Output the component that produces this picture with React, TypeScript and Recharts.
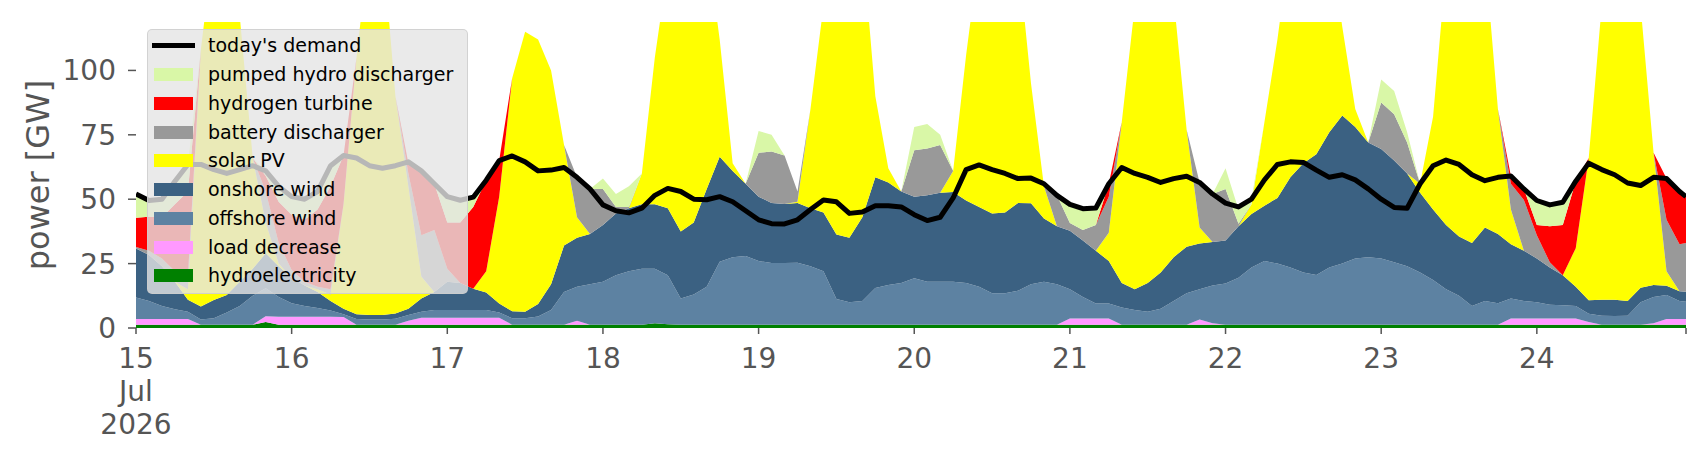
import React from 'react';
import { ComposedChart, Area, Line, XAxis, YAxis, Legend } from 'recharts';

// hours since 15 Jul 2026 00:00 (2-hourly, last point at 239 h)
const hours: number[] = Array.from({ length: 120 }, (_, i) => i * 2).concat([239]);

const hydro = [
  1.3,1.3,1.3,1.3,1.3,1.3,1.3,1.3,1.3,1.3,
  2.3,1.3,1.3,1.3,1.3,1.3,1.3,1.3,1.3,1.3,
  1.3,1.3,1.3,1.3,1.3,1.3,1.3,1.3,1.3,1.3,
  1.3,1.3,1.3,1.3,1.3,1.3,1.3,1.3,1.3,1.3,
  1.8,1.5,1.3,1.3,1.3,1.3,1.3,1.3,1.3,1.3,
  1.3,1.3,1.3,1.3,1.3,1.3,1.3,1.3,1.3,1.3,
  1.3,1.3,1.3,1.3,1.3,1.3,1.3,1.3,1.3,1.3,
  1.3,1.3,1.3,1.3,1.3,1.3,1.3,1.3,1.3,1.3,
  1.3,1.3,1.3,1.3,1.3,1.3,1.3,1.3,1.3,1.3,
  1.3,1.3,1.3,1.3,1.3,1.3,1.3,1.3,1.3,1.3,
  1.3,1.3,1.3,1.3,1.3,1.3,1.3,1.3,1.3,1.3,
  1.3,1.3,1.3,1.3,1.3,1.3,1.3,1.3,1.3,1.3,
  1.3,
];

const loadDecrease = [
  2.2,2.2,2.2,2.2,2.2,0,0,0,0,0,
  2.3,3.1,3.1,3.1,3.1,3.1,3.0,0,0,0,
  0,1.5,2.7,2.7,2.7,2.7,2.7,2.7,2.7,0,
  0,0,0,0,1.5,0,0,0,0,0,
  0,0,0,0,0,0,0,0,0,0,
  0,0,0,0,0,0,0,0,0,0,
  0,0,0,0,0,0,0,0,0,0,
  0,0,2.4,2.4,2.4,2.4,0,0,0,0,
  0,0,2.0,0.5,0,0,0,0,0,0,
  0,0,0,0,0,0,0,0,0,0,
  0,0,0,0,0,0,2.4,2.4,2.4,2.4,
  2.4,2.4,1.0,0,0,0,0,0.5,2.2,2.2,
  2.2,
];

const offshoreWind = [
  8.3,7.0,5.0,3.8,2.8,2.0,2.5,4.7,7.2,11.2,
  10.8,7.6,5.2,4.1,3.4,2.4,1.0,2.2,2.0,2.0,
  2.3,2.2,2.3,3.0,3.0,3.0,3.0,3.0,2.0,2.5,
  2.5,3.2,5.7,12.7,13.2,15.7,16.7,19.2,20.7,21.7,
  21.2,19.0,10.2,11.7,14.7,24.4,26.2,26.7,24.7,23.9,
  23.9,24.0,22.7,20.7,10.0,8.7,9.2,14.2,15.4,16.2,
  18.0,16.7,16.7,16.7,16.2,14.7,12.2,12.2,13.2,15.7,
  16.7,15.7,11.3,8.3,5.8,5.8,6.7,5.7,5.0,6.2,
  9.2,12.2,11.7,14.7,16.0,18.2,22.2,24.7,23.7,22.2,
  20.2,19.3,22.2,23.7,25.7,26.2,25.7,24.2,22.7,20.2,
  17.3,13.7,11.2,7.2,9.2,8.3,7.8,6.8,6.3,5.3,
  5.1,4.8,3.2,3.5,3.4,3.5,8.7,10.2,9.3,7.0,
  6.7,
];

const onshoreWind = [
  19.1,17.8,15.5,10.7,4.7,5.0,7.1,6.8,9.5,10.5,
  13.6,12.0,9.9,8.0,6.2,3.7,2.2,1.8,1.7,1.7,
  2.0,2.5,5.2,7.0,11.0,10.5,8.2,6.8,3.5,2.7,
  2.5,4.8,10.0,18.0,19.0,19.5,22.0,24.0,24.5,25.0,
  25.0,26.0,26.0,28.0,38.0,40.8,33.5,28.0,25.0,23.3,
  22.9,23.2,22.5,22.8,25.0,25.0,32.5,43.0,39.8,35.5,
  31.7,33.5,34.5,34.8,32.0,31.0,31.0,31.3,34.0,31.4,
  24.5,22.5,22.8,22.0,20.5,16.5,9.5,8.0,11.2,14.0,
  17.0,18.0,17.8,16.9,16.7,20.0,20.8,21.5,25.5,35.0,
  42.5,46.9,52.5,57.5,51.0,44.5,42.5,39.5,36.0,31.0,
  27.4,25.0,23.0,24.5,28.5,26.9,21.0,19.5,17.0,14.5,
  11.7,7.5,5.3,6.2,6.3,5.7,5.6,4.7,3.6,3.8,
  3.9,
];

const solarPV = [
  0,0,0,0,4,99.7,139.1,137.2,103,43,
  12,1,0,0,1,2.5,40.5,99.7,145,145,
  84.4,47.5,8.5,0,0,0,0,8.2,41.5,90.5,
  108.7,102.7,83,39,8,0,0,0,0,12,
  57,93.5,112.5,109,96,45.5,3,0,0,0,
  0,0.5,38.5,80.2,113.7,115,107,31.5,5.5,0,
  0,0,0,8.2,56.5,98,105.5,105.2,96.5,46.6,
  12.5,0,0,0,0,11,62.5,110,132.5,128.5,
  100.5,45.5,6.2,0,0,0,3.7,32.5,61.5,91.5,
  86,82.5,74,34.5,7,0,0,0,0,3.5,
  36,100,114.5,117,106,48.5,13.5,0,0,0,
  0,15,55.2,114,139,139.5,109.4,51.3,5.6,0,
  0,
];

const batteryDischarger = [
  0.5,1.7,3,4,5,0,0,0,0,0,
  12,8,3,1.5,1,2,0,0,0,0,
  0,5,16,24,5,0,0,0,0,0,
  0,0,0,0,15.5,17.5,14,2.5,0.5,0,
  0,0,0,0,0,0,0,0,17,20,
  18.9,4,0,0,0,0,0,0,0,0,
  18,18.2,18.5,0,0,0,0,0,0,0,
  0,12,3,4,10,14,0,0,0,0,
  0,0,17.5,18.6,20,1,0,0,0,0,
  0,0,0,0,0,0,18,18,12,0,
  0,0,0,0,0,0,10,19.7,9,2,
  0,0,0,0,0,0,0,0,20,18.2,
  18.9,
];

const hydrogenTurbine = [
  11.4,13.2,16,26,33,0,0,0,0,0,
  6,16,21.5,24,30,40,19,0,0,0,
  0,4,25,18,18,23.5,31.8,35.4,14,0,
  0,0,0,0,0,0,0,0,0,0,
  0,0,0,0,0,0,0,0,0,0,
  0,0,0,0,0,0,0,0,0,0,
  0,0,0,0,0,0,0,0,0,0,
  0,0,0,0,0,5,0,0,0,0,
  0,0,0,0,0,0,0,0,0,0,
  0,0,0,0,0,0,0,0,0,0,
  0,0,0,0,0,0,3,4.3,4,14,
  19.5,26,0,0,0,0,0,0,16,20.5,
  18,
];

const pumpedHydro = [
  8.7,6.3,7,9,10.5,0,0,0,0,0,
  2,6,7,8,7,8,0,0,0,0,
  0,0,0,0,10,8.6,3.8,0,0,0,
  0,0,0,0,0,0,4,5,8,0,
  0,0,0,0,0,0,0,0,8.5,6.5,
  0,0,0,0,0,0,0,0,0,0,
  9,9.5,4,0,0,0,0,0,0,0,
  0,0,7.2,8.3,6.6,0,0,0,0,0,
  0,0,0,0,8,5.5,2,0,0,0,
  0,0,0,0,0,0,9,9,4,0,
  0,0,0,0,0,0,0,0,9.5,8.3,
  8.8,0,0,0,0,0,0,0,0,0,
  0,
];

const demand = [
  52,49.5,50,57,63.5,63.5,61.5,60,61.5,63,
  61,55,51,50,53,63,67,66,63,62,
  63,64.5,61,56,51,49.6,50.8,57.4,65,66.8,
  64.5,61,61.3,62.3,58.5,54,47.8,45.5,44.7,46.5,
  51.5,54.2,53,50,49.8,51,49,45.5,42,40.5,
  40.4,42,46,49.7,49,44.5,45,47.5,47.5,47,
  44,41.7,43,50.5,61.5,63.3,61.5,60,58,58.2,
  56,51.5,48,46.3,46.6,56,62.3,60,58.5,56.5,
  58,58.9,56.5,52,48.5,47,50,57.5,63.5,64.5,
  64.3,61.3,58.5,59.5,57.5,54,50,46.8,46.5,56,
  63,65.2,63.5,59.5,57.2,58.5,59,54,49.5,47.8,
  48.8,57,64,61.5,59.5,56.3,55.3,58.5,58,53,
  51,
];

const xTicks = [0, 24, 48, 72, 96, 120, 144, 168, 192, 216, 239];
const xTickLabels: string[][] = [
  ['15', 'Jul', '2026'], ['16'], ['17'], ['18'], ['19'], ['20'], ['21'], ['22'], ['23'], ['24'], [],
];
const yTicks = [0, 25, 50, 75, 100];

const series = [
  { key: 'hydro', label: 'hydroelectricity', color: '#008000' },
  { key: 'loadDecrease', label: 'load decrease', color: '#ff99ff' },
  { key: 'offshore', label: 'offshore wind', color: '#5d82a2' },
  { key: 'onshore', label: 'onshore wind', color: '#3b6182' },
  { key: 'solar', label: 'solar PV', color: '#ffff00' },
  { key: 'battery', label: 'battery discharger', color: '#999999' },
  { key: 'hydrogen', label: 'hydrogen turbine', color: '#ff0000' },
  { key: 'pumped', label: 'pumped hydro discharger', color: '#d9f7a7' },
];

const rows = hours.map((h, i) => ({
  h,
  hydro: hydro[i],
  loadDecrease: loadDecrease[i],
  offshore: offshoreWind[i],
  onshore: onshoreWind[i],
  solar: solarPV[i],
  battery: batteryDischarger[i],
  hydrogen: hydrogenTurbine[i],
  pumped: pumpedHydro[i],
  demand: demand[i],
}));

const FONT = 'DejaVu Sans';
const TEXT = '#555555';

const XTick = (props: any) => {
  const { x, y, payload } = props;
  const idx = xTicks.indexOf(payload.value);
  const lines = idx >= 0 ? xTickLabels[idx] : [];
  if (!lines.length) return <g />;
  return (
    <text x={x} y={y} textAnchor="middle" fill={TEXT} fontSize={28} fontFamily={FONT}>
      {lines.map((l, i) => (
        <tspan key={i} x={x} dy={i === 0 ? 32.3 : 32.6}>{l}</tspan>
      ))}
    </text>
  );
};

const legendItems = [
  { label: "today's demand", color: '#000000', line: true },
  ...series.slice().reverse().map((s) => ({ label: s.label, color: s.color, line: false })),
];

const LegendBox = () => (
  <div
    style={{
      width: 321,
      height: 265,
      boxSizing: 'border-box',
      background: 'rgba(229,229,229,0.8)',
      border: '1px solid rgba(204,204,204,0.8)',
      borderRadius: 5,
      paddingTop: 1.6,
      fontFamily: FONT,
      fontSize: 19,
      color: '#000',
    }}
  >
    {legendItems.map((it) => (
      <div key={it.label} style={{ display: 'flex', alignItems: 'center', height: 28.75 }}>
        <div style={{ width: 60, height: '100%', position: 'relative', flex: '0 0 60px' }}>
          {it.line ? (
            <div style={{ position: 'absolute', left: 4, top: '50%', marginTop: -2.5, width: 43, height: 5, background: it.color }} />
          ) : (
            <div style={{ position: 'absolute', left: 6, top: '50%', marginTop: -6.5, width: 39, height: 13, background: it.color }} />
          )}
        </div>
        <span style={{ whiteSpace: 'nowrap', lineHeight: 1 }}>{it.label}</span>
      </div>
    ))}
  </div>
);

const YLabel = () => (
  <text
    x={30}
    y={167}
    transform="rotate(-90, 30, 167)"
    textAnchor="middle"
    dominantBaseline="central"
    fill={TEXT}
    fontSize={32}
    fontFamily={FONT}
  >
    power [GW]
  </text>
);

export default function App() {
  return (
    <div style={{ width: 1690, height: 444 }}>
      <ComposedChart
        width={1690}
        height={444}
        data={rows}
        margin={{ top: 14, right: 12, bottom: 0, left: 0 }}
      >
        <XAxis
          type="number"
          dataKey="h"
          domain={[0, 239]}
          ticks={xTicks}
          interval={0}
          allowDataOverflow
          axisLine={false}
          tickLine={{ stroke: TEXT, strokeWidth: 1.5 }}
          tickSize={6}
          height={124}
          tick={<XTick />}
        />
        <YAxis
          type="number"
          domain={[0, 118.8]}
          ticks={yTicks}
          allowDataOverflow
          width={128}
          axisLine={false}
          tickLine={{ stroke: TEXT, strokeWidth: 1.5 }}
          tickSize={8}
          tickMargin={12}
          tick={{ fill: TEXT, fontSize: 28, fontFamily: FONT }}
          label={{ content: () => <YLabel /> }}
        />
        {series.map((s) => (
          <Area
            key={s.key}
            type="linear"
            dataKey={s.key}
            stackId="gen"
            stroke="none"
            fill={s.color}
            fillOpacity={1}
            isAnimationActive={false}
            dot={false}
            activeDot={false}
          />
        ))}
        <Line
          type="linear"
          dataKey="demand"
          stroke="#000000"
          strokeWidth={5}
          strokeLinejoin="round"
          dot={false}
          activeDot={false}
          isAnimationActive={false}
        />
        <Legend
          layout="vertical"
          align="center"
          verticalAlign="middle"
          content={() => <LegendBox />}
          wrapperStyle={{ position: 'absolute', left: 139, top: 21, width: 321, height: 265 }}
        />
      </ComposedChart>
    </div>
  );
}
